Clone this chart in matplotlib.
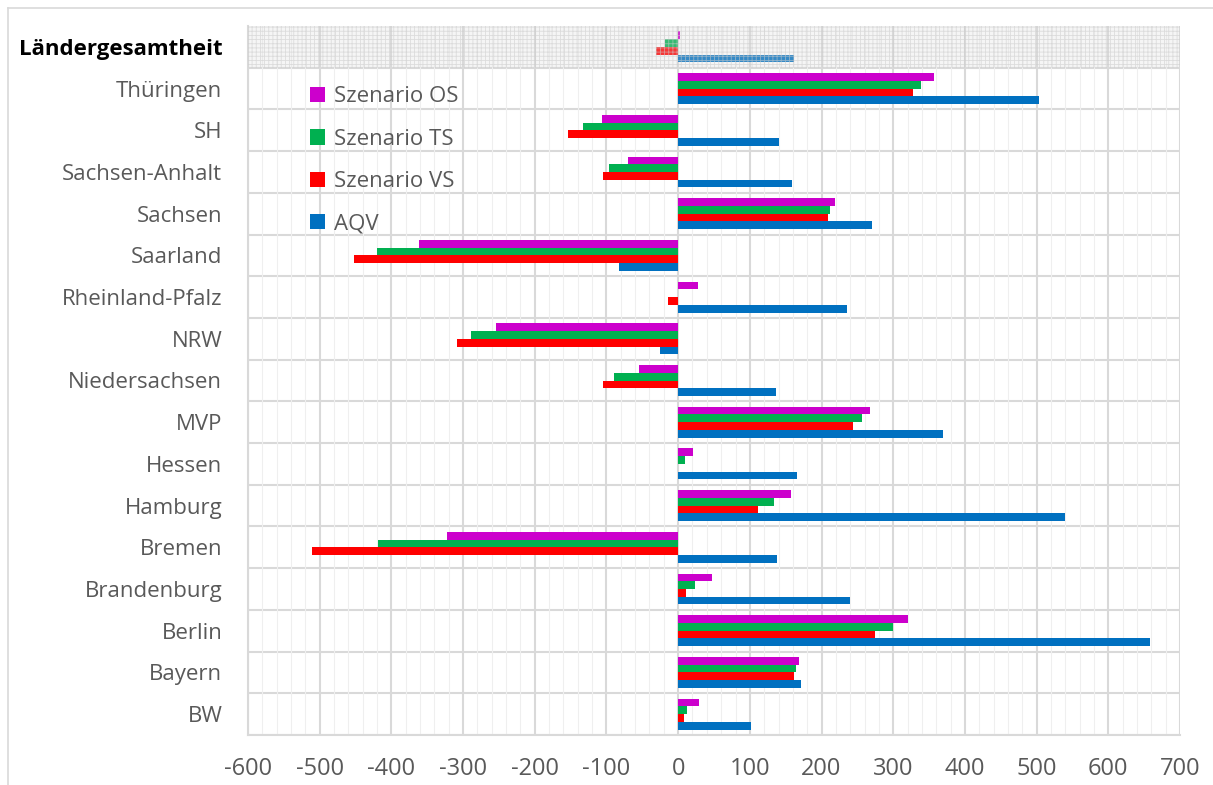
import matplotlib
matplotlib.use("Agg")
import matplotlib.pyplot as plt
import numpy as np
from matplotlib.patches import Rectangle
from matplotlib.ticker import MultipleLocator

categories = ["BW", "Bayern", "Berlin", "Brandenburg", "Bremen", "Hamburg", "Hessen",
              "MVP", "Niedersachsen", "NRW", "Rheinland-Pfalz", "Saarland", "Sachsen",
              "Sachsen-Anhalt", "SH", "Thüringen", "Ländergesamtheit"]
aqv = [101, 172, 658, 240, 138, 539, 166, 370, 137, -26, 236, -82, 270, 159, 140, 503, 162]
vs  = [8, 162, 275, 11, -511, 112, 0, 244, -105, -309, -14, -452, 209, -105, -154, 327, -31]
ts  = [13, 165, 300, 24, -419, 134, 10, 256, -89, -289, 0, -420, 212, -96, -133, 339, -18]
os_ = [29, 168, 321, 47, -323, 158, 21, 268, -54, -254, 28, -362, 219, -70, -106, 357, 3]

series = [("Szenario OS", os_, "#CC00CC"), ("Szenario TS", ts, "#00B050"),
          ("Szenario VS", vs, "#FF0000"), ("AQV", aqv, "#0070C0")]
xticks = list(range(-600, 701, 100))

plt.rcParams['font.family'] = ['Open Sans', 'DejaVu Sans']
plt.rcParams['hatch.linewidth'] = 0.6

fig = plt.figure(figsize=(12.13, 7.85), dpi=100)
ax = fig.add_axes([248/1213, 1-735/785, (1180-248)/1213, (735-26)/785])

y = np.arange(len(categories))
h = 0.185
offsets = [1.5*h, 0.5*h, -0.5*h, -1.5*h]
handles = []
for (name, vals, col), off in zip(series, offsets):
    b = ax.barh(y + off, vals, height=h, color=col, zorder=3, label=name)
    handles.append(b)

ax.set_xlim(-600, 700)
ax.set_ylim(-0.5, len(categories) - 0.5)
ax.xaxis.set_major_locator(MultipleLocator(100))
ax.xaxis.set_minor_locator(MultipleLocator(20))
ax.set_xticks(xticks)
ax.set_xticklabels([str(v) for v in xticks])
ax.grid(axis='x', which='major', color='#d9d9d9', linewidth=1.5, zorder=0)
ax.grid(axis='x', which='minor', color='#efefef', linewidth=0.8, zorder=0)
for k in range(len(categories)):
    ax.axhline(k - 0.5, color='#d9d9d9', linewidth=1.5, zorder=1)

ax.set_yticks(y)
ax.set_yticklabels(categories)
ax.tick_params(axis='both', which='both', length=0, colors='#595959')
ax.tick_params(axis='y', pad=18.5, labelsize=16)
ax.tick_params(axis='x', pad=16, labelsize=17)
top = ax.get_yticklabels()[-1]
top.set_fontweight('bold')
top.set_color('black')
top.set_fontsize(16)

for s in ['top', 'right']:
    ax.spines[s].set_visible(False)
for s in ['left', 'bottom']:
    ax.spines[s].set_color('#d9d9d9')
    ax.spines[s].set_linewidth(1.5)

# hatched overlay on total row
ax.add_patch(Rectangle((-600, len(categories) - 1.5), 1300, 1.0,
                       facecolor=(0.85, 0.85, 0.85, 0.25), edgecolor=(0.8, 0.8, 0.8, 0.6),
                       hatch='++++', linewidth=0, zorder=4))

leg = ax.legend(handles=handles, loc='upper left', bbox_to_anchor=(0.045, 0.943),
                frameon=False, fontsize=16, labelcolor='#595959',
                handlelength=0.7, handleheight=0.7, handletextpad=0.4,
                labelspacing=0.96)

# figure border
fig.add_artist(plt.Line2D([8/1213, 1], [1-8/785, 1-8/785], color='#d9d9d9', lw=1.2))
fig.add_artist(plt.Line2D([8/1213, 8/1213], [0, 1-8/785], color='#d9d9d9', lw=1.2))

fig.savefig('out.png', dpi=100)
